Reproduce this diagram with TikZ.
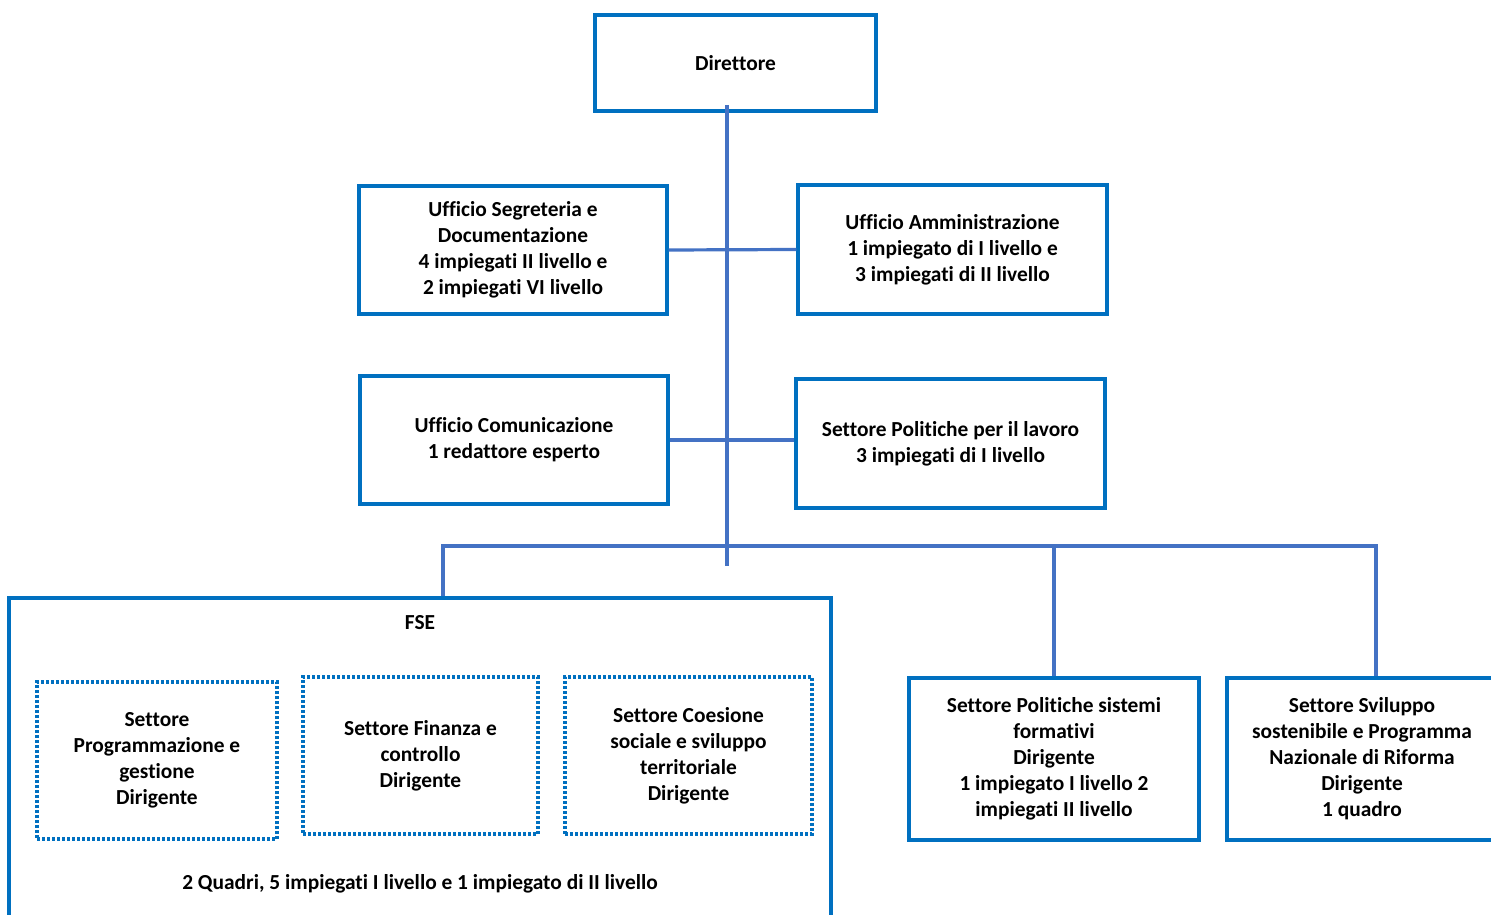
\documentclass[tikz,border=0pt]{standalone}
\usepackage{fontspec}
\setmainfont{Carlito}[RawFeature=-liga]
\definecolor{boxblue}{HTML}{0070C0}
\definecolor{linkblue}{HTML}{4472C4}
\begin{document}
\begin{tikzpicture}[x=0.5pt,y=-0.5pt,
  every node/.style={font=\fontsize{10.7}{13}\selectfont\bfseries, align=center, text=black},
  box/.style={draw=boxblue, line width=1.7pt, rectangle, inner sep=0pt},
  dotbox/.style={draw=boxblue, line width=1.6pt, rectangle, inner sep=0pt, dash pattern=on 1.5pt off 1pt},
  conn/.style={draw=linkblue, line width=1.6pt},
  lbl/.style={inner sep=0pt}]
\useasboundingbox (0,0) rectangle (1491,914);
\clip (0,0) rectangle (1491,914);

\node[box, minimum width=140.5pt, minimum height=48pt] (dir) at (735.5,63) {Direttore};
\node[box, minimum width=154pt, minimum height=64pt] (seg) at (513,250)
  {Ufficio Segreteria e\\Documentazione\\4 impiegati II livello e\\2 impiegati VI livello};
\node[box, minimum width=154.5pt, minimum height=64.5pt] (amm) at (952.5,249.5)
  {Ufficio Amministrazione\\1 impiegato di I livello e\\3 impiegati di II livello};
\node[box, minimum width=154pt, minimum height=64pt] (com) at (514,440)
  {Ufficio Comunicazione\\1 redattore esperto};
\node[box, minimum width=154.5pt, minimum height=64.5pt] (pol) at (950.5,443.5)
  {Settore Politiche per il lavoro\\3 impiegati di I livello};

\node[box, minimum width=411pt, minimum height=163.5pt] (fse) at (420,761.5) {};
\node[lbl] (fsel) at (420,623) {FSE};
\node[lbl] (fseb) at (420,884) {2 Quadri, 5 impiegati I livello e 1 impiegato di II livello};

\node[dotbox, minimum width=120pt, minimum height=78.5pt] (d1) at (157,760.5)
  {Settore\\Programmazione e\\gestione\\Dirigente};
\node[dotbox, minimum width=117.5pt, minimum height=78.5pt] (d2) at (420.5,755.5)
  {Settore Finanza e\\controllo\\Dirigente};
\node[dotbox, minimum width=123.5pt, minimum height=78.5pt] (d3) at (688.5,755.5)
  {Settore Coesione\\sociale e sviluppo\\territoriale\\Dirigente};

\node[box, minimum width=145pt, minimum height=81pt] (sis) at (1054,759)
  {Settore Politiche sistemi\\formativi\\Dirigente\\1 impiegato I livello 2\\impiegati II livello};
\node[box, minimum width=135pt, minimum height=81pt] (svi) at (1362,759)
  {Settore Sviluppo\\sostenibile e Programma\\Nazionale di Riforma\\Dirigente\\1 quadro};

\coordinate (tTop) at (727,105);
\coordinate (tBot) at (727,566);
\coordinate (busL) at (443,546);
\coordinate (busR) at (1376,546);

\draw[conn] (tTop) -- (tBot);
\draw[conn] (seg.east) -- (amm.west);
\draw[conn] (com.east) -- (com.east -| pol.west);
\draw[conn] (fse.north -| busL) -- (busL) -- (busR) -- (busR |- svi.north);
\draw[conn] (sis.north) -- (sis.north |- busL);
\end{tikzpicture}
\end{document}
